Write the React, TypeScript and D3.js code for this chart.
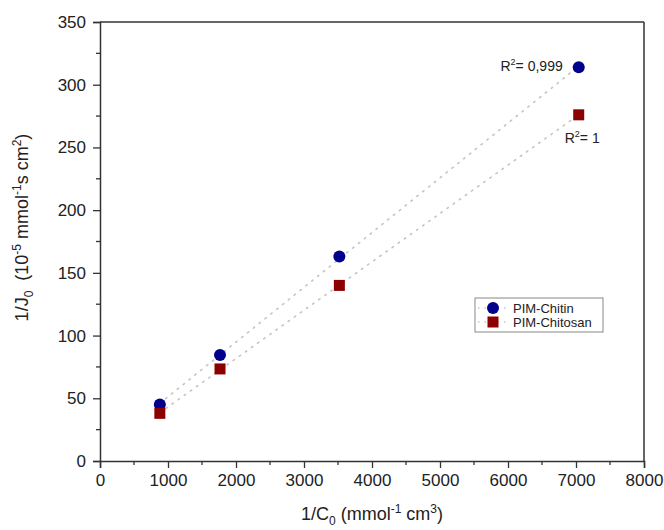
import { useEffect, useRef } from 'react'
import * as d3 from 'd3'

// 1/C0 values (mmol^-1 cm^3)
const invC0 = [880, 1765, 3520, 7040]
// 1/J0 values (10^-5 mmol^-1 s cm^2)
const chitin = [45, 84.5, 163, 314]
const chitosan = [38, 73.4, 140, 276]
const xTicks = [0, 1000, 2000, 3000, 4000, 5000, 6000, 7000, 8000]
const yTicks = [0, 50, 100, 150, 200, 250, 300, 350]
const seriesNames = ['PIM-Chitin', 'PIM-Chitosan']
const r2Labels = ['0,999', '1']

const BLUE = '#00008b'
const RED = '#8b0000'
const AXIS = '#333'
const FONT = '"Liberation Sans", Arial, sans-serif'

function fit(xs: number[], ys: number[]) {
  const mx = d3.mean(xs) as number
  const my = d3.mean(ys) as number
  let sxy = 0
  let sxx = 0
  xs.forEach((x, i) => {
    sxy += (x - mx) * (ys[i] - my)
    sxx += (x - mx) * (x - mx)
  })
  const slope = sxy / sxx
  return { slope, intercept: my - slope * mx }
}

export default function App() {
  const svgRef = useRef<SVGSVGElement>(null)

  useEffect(() => {
    if (!svgRef.current) return
    const root = d3.select(svgRef.current)
    root.selectAll('*').remove()

    const margin = { top: 22, right: 20, bottom: 69, left: 100 }
    const W = 664
    const H = 530
    const width = W - margin.left - margin.right
    const height = H - margin.top - margin.bottom

    const g = root.append('g').attr('transform', `translate(${margin.left},${margin.top})`)

    const x = d3.scaleLinear().domain([0, 8000]).range([0, width])
    const y = d3.scaleLinear().domain([0, 350]).range([height, 0])

    // frame (top + right, no ticks)
    g.append('line').attr('x1', 0).attr('x2', width).attr('y1', 0).attr('y2', 0)
      .attr('stroke', AXIS).attr('stroke-width', 1.5)
    g.append('line').attr('x1', width).attr('x2', width).attr('y1', 0).attr('y2', height)
      .attr('stroke', AXIS).attr('stroke-width', 1.5)

    // minor ticks
    const xMinor = d3.range(500, 8000, 1000)
    const yMinor = d3.range(25, 350, 50)
    g.selectAll('.xminor').data(xMinor).enter().append('line')
      .attr('x1', d => x(d)).attr('x2', d => x(d)).attr('y1', height).attr('y2', height + 4)
      .attr('stroke', AXIS).attr('stroke-width', 1.3)
    g.selectAll('.yminor').data(yMinor).enter().append('line')
      .attr('x1', 0).attr('x2', -4).attr('y1', d => y(d)).attr('y2', d => y(d))
      .attr('stroke', AXIS).attr('stroke-width', 1.3)

    // bottom axis
    const xAxis = g.append('g')
      .attr('transform', `translate(0,${height})`)
      .call(d3.axisBottom(x).tickValues(xTicks).tickSize(7).tickPadding(6).tickFormat(d3.format('d')))
    xAxis.select('.domain').attr('stroke', AXIS).attr('stroke-width', 1.5)
    xAxis.selectAll('.tick line').attr('stroke', AXIS).attr('stroke-width', 1.3)
    xAxis.selectAll('text').style('font-size', '17px').style('font-family', FONT).attr('fill', '#222')

    // left axis
    const yAxis = g.append('g')
      .call(d3.axisLeft(y).tickValues(yTicks).tickSize(7).tickPadding(7))
    yAxis.select('.domain').attr('stroke', AXIS).attr('stroke-width', 1.5)
    yAxis.selectAll('.tick line').attr('stroke', AXIS).attr('stroke-width', 1.3)
    yAxis.selectAll('text').style('font-size', '17px').style('font-family', FONT).attr('fill', '#222')

    // fit lines
    const series = [
      { name: seriesNames[0], ys: chitin, color: BLUE, shape: 'circle' },
      { name: seriesNames[1], ys: chitosan, color: RED, shape: 'square' }
    ]
    const x0 = d3.min(invC0) as number
    const x1 = d3.max(invC0) as number
    series.forEach(s => {
      const f = fit(invC0, s.ys)
      g.append('line')
        .attr('x1', x(x0)).attr('y1', y(f.slope * x0 + f.intercept))
        .attr('x2', x(x1)).attr('y2', y(f.slope * x1 + f.intercept))
        .attr('stroke', '#c4c4c4').attr('stroke-width', 1.6)
        .attr('stroke-dasharray', '1.5,6').attr('stroke-linecap', 'round')
    })

    // markers
    const drawMarker = (sel: any, shape: string, color: string, cx: number, cy: number) => {
      if (shape === 'circle') {
        sel.append('circle').attr('cx', cx).attr('cy', cy).attr('r', 6).attr('fill', color)
      } else {
        sel.append('rect').attr('x', cx - 5.5).attr('y', cy - 5.5).attr('width', 11).attr('height', 11).attr('fill', color)
      }
    }
    series.forEach(s => {
      invC0.forEach((xv, i) => drawMarker(g, s.shape, s.color, x(xv), y(s.ys[i])))
    })

    // R² labels
    const r2 = (tx: number, ty: number, anchor: string, val: string) => {
      const t = g.append('text').attr('x', tx).attr('y', ty).attr('text-anchor', anchor)
        .style('font-size', '14px').style('font-family', FONT).attr('fill', '#222')
      t.append('tspan').text('R')
      t.append('tspan').attr('dy', -6).style('font-size', '9px').text('2')
      t.append('tspan').attr('dy', 6).text('= ' + val)
    }
    r2(x(invC0[3]) - 16, y(chitin[3]) + 4, 'end', r2Labels[0])
    r2(x(invC0[3]) - 14, y(chitosan[3]) + 28, 'start', r2Labels[1])

    // legend
    const lg = root.append('g').attr('transform', 'translate(475,298)')
    lg.append('rect').attr('width', 128).attr('height', 34)
      .attr('fill', 'white').attr('stroke', '#888').attr('stroke-width', 1)
    series.forEach((s, i) => {
      const ly = 10 + i * 14
      lg.append('line').attr('x1', 3).attr('x2', 33).attr('y1', ly).attr('y2', ly)
        .attr('stroke', '#c4c4c4').attr('stroke-width', 1.4).attr('stroke-dasharray', '1.5,5')
      drawMarker(lg, s.shape, s.color, 18, ly)
      lg.append('text').attr('x', 38).attr('y', ly + 5)
        .style('font-size', '13px').style('font-family', FONT).attr('fill', '#222')
        .text(s.name)
    })

    // axis titles
    const xt = root.append('text').attr('x', margin.left + width / 2).attr('y', 520)
      .attr('text-anchor', 'middle').style('font-size', '18px').style('font-family', FONT).attr('fill', '#222')
    xt.append('tspan').text('1/C')
    xt.append('tspan').attr('dy', 5).style('font-size', '12px').text('0')
    xt.append('tspan').attr('dy', -5).text(' (mmol')
    xt.append('tspan').attr('dy', -7).style('font-size', '12px').text('-1')
    xt.append('tspan').attr('dy', 7).text(' cm')
    xt.append('tspan').attr('dy', -7).style('font-size', '12px').text('3')
    xt.append('tspan').attr('dy', 7).text(')')

    const yt = root.append('text').attr('transform', `translate(28,${margin.top + height / 2 - 14}) rotate(-90)`)
      .attr('text-anchor', 'middle').style('font-size', '18px').style('font-family', FONT).attr('fill', '#222')
      .attr('xml:space', 'preserve').style('white-space', 'pre')
    yt.append('tspan').text('1/J')
    yt.append('tspan').attr('dy', 5).style('font-size', '12px').text('0')
    yt.append('tspan').attr('dy', -5).text('  (10')
    yt.append('tspan').attr('dy', -7).style('font-size', '12px').text('-5')
    yt.append('tspan').attr('dy', 7).text(' mmol')
    yt.append('tspan').attr('dy', -7).style('font-size', '12px').text('-1')
    yt.append('tspan').attr('dy', 7).text('s cm')
    yt.append('tspan').attr('dy', -7).style('font-size', '12px').text('2')
    yt.append('tspan').attr('dy', 7).text(')')
  }, [])

  return (
    <svg
      ref={svgRef}
      width={664}
      height={530}
      style={{ position: 'absolute', left: 0, top: 0, background: 'white' }}
    />
  )
}
